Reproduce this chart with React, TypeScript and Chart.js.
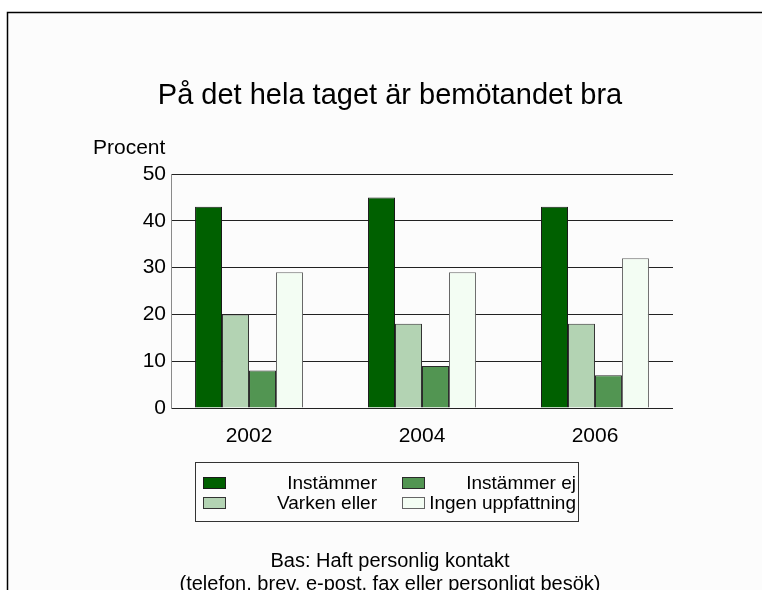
import { useEffect, useRef } from "react";
import { Chart, registerables } from "chart.js";

Chart.register(...registerables);

const years = [2002, 2004, 2006];
const seriesNames = ["Instämmer", "Varken eller", "Instämmer ej", "Ingen uppfattning"];
const instammer = [43, 45, 43];
const varkenEller = [20, 18, 18];
const instammerEj = [8, 9, 7];
const ingenUppfattning = [29, 29, 32];
const yTickValues = [0, 10, 20, 30, 40, 50];
const titleText = "På det hela taget är bemötandet bra";
const yTitleText = "Procent";
const footnoteLines = ["Bas: Haft personlig kontakt", "(telefon, brev, e-post, fax eller personligt besök)"];

const FONT = "'Liberation Sans', Arial, sans-serif";
const fills = ["#006000", "#b3d3b3", "#529552", "#f3fdf3"];
const strokes = ["#1a1a1a", "#333333", "#2a2a2a", "#666666"];

const decorPlugin = {
  id: "decor",
  beforeDraw(chart: any) {
    const ctx = chart.ctx;
    ctx.save();
    ctx.fillStyle = "#ffffff";
    ctx.fillRect(0, 0, chart.width, chart.height);
    ctx.fillStyle = "#fcfcfc";
    ctx.fillRect(8, 13, chart.width - 8, chart.height - 13);
    ctx.strokeStyle = "#000000";
    ctx.lineWidth = 1.5;
    ctx.beginPath();
    ctx.moveTo(7.5, chart.height);
    ctx.lineTo(7.5, 12.5);
    ctx.lineTo(chart.width, 12.5);
    ctx.stroke();
    ctx.restore();
  },
  afterDraw(chart: any) {
    const ctx = chart.ctx;
    ctx.save();
    ctx.fillStyle = "#000000";
    ctx.textBaseline = "middle";
    ctx.font = `29px ${FONT}`;
    ctx.textAlign = "center";
    ctx.fillText(titleText, 390, 96);
    ctx.font = `21px ${FONT}`;
    ctx.textAlign = "left";
    ctx.fillText(yTitleText, 93, 148);
    ctx.strokeStyle = "#333333";
    ctx.lineWidth = 1;
    ctx.strokeRect(195.5, 462.5, 383, 59);
    ctx.font = `19px ${FONT}`;
    const dsets = chart.data.datasets;
    const colSwatchX = [203, 402];
    const colTextRight = [377, 576];
    const rowY = [483, 503];
    dsets.forEach((ds: any, i: number) => {
      const col = Math.floor(i / 2);
      const row = i % 2;
      const sx = colSwatchX[col];
      const sy = rowY[row] - 6;
      ctx.fillStyle = ds.backgroundColor;
      ctx.fillRect(sx, sy, 23, 12);
      ctx.strokeStyle = ds.borderColor;
      ctx.strokeRect(sx + 0.5, sy + 0.5, 22, 11);
      ctx.fillStyle = "#000000";
      ctx.textAlign = "right";
      ctx.fillText(ds.label, colTextRight[col], rowY[row] + 1);
    });
    ctx.font = `20px ${FONT}`;
    ctx.textAlign = "center";
    footnoteLines.forEach((line, i) => {
      ctx.fillText(line, 390, 561 + i * 23);
    });
    ctx.restore();
  },
};

export default function App() {
  const ref = useRef<HTMLCanvasElement | null>(null);
  useEffect(() => {
    if (!ref.current) return;
    const seriesValues = [instammer, varkenEller, instammerEj, ingenUppfattning];
    const chart = new Chart(ref.current, {
      type: "bar",
      data: {
        datasets: seriesValues.map((vals, i) => ({
          label: seriesNames[i],
          data: vals.map((v, j) => ({ x: years[j], y: v })),
          backgroundColor: fills[i],
          borderColor: strokes[i],
          borderWidth: 1,
          categoryPercentage: 0.624,
          barPercentage: 1,
        })),
      },
      options: {
        animation: false,
        responsive: false,
        maintainAspectRatio: false,
        layout: { padding: { left: 0, right: 89, top: 174, bottom: 132 } },
        plugins: {
          legend: { display: false },
          title: { display: false },
          tooltip: { enabled: false },
        },
        scales: {
          x: {
            type: "linear",
            offset: false,
            min: 2001.098,
            max: 2006.902,
            afterBuildTicks: (s: any) => {
              s.ticks = years.map((v) => ({ value: v }));
            },
            afterFit: (s: any) => {
              s.height = 50;
            },
            grid: { display: false, drawTicks: false, offset: false },
            border: { display: false },
            ticks: {
              padding: 16,
              color: "#000000",
              font: { family: FONT, size: 21 },
              callback: (v: any) => String(v),
            },
          },
          y: {
            min: 0,
            max: 50,
            afterBuildTicks: (s: any) => {
              s.ticks = yTickValues.map((v) => ({ value: v }));
            },
            afterFit: (s: any) => {
              s.width = 171;
            },
            grid: { color: "#222222", lineWidth: 1, drawTicks: false },
            border: { display: true, color: "#8a8a8a", width: 1 },
            ticks: {
              padding: 5,
              color: "#000000",
              font: { family: FONT, size: 21 },
            },
          },
        },
      },
      plugins: [decorPlugin],
    } as any);
    return () => chart.destroy();
  }, []);
  return (
    <div style={{ position: "fixed", left: 0, top: 0, width: 762, height: 590 }}>
      <canvas ref={ref} width={762} height={590} style={{ width: 762, height: 590, display: "block" }} />
    </div>
  );
}
